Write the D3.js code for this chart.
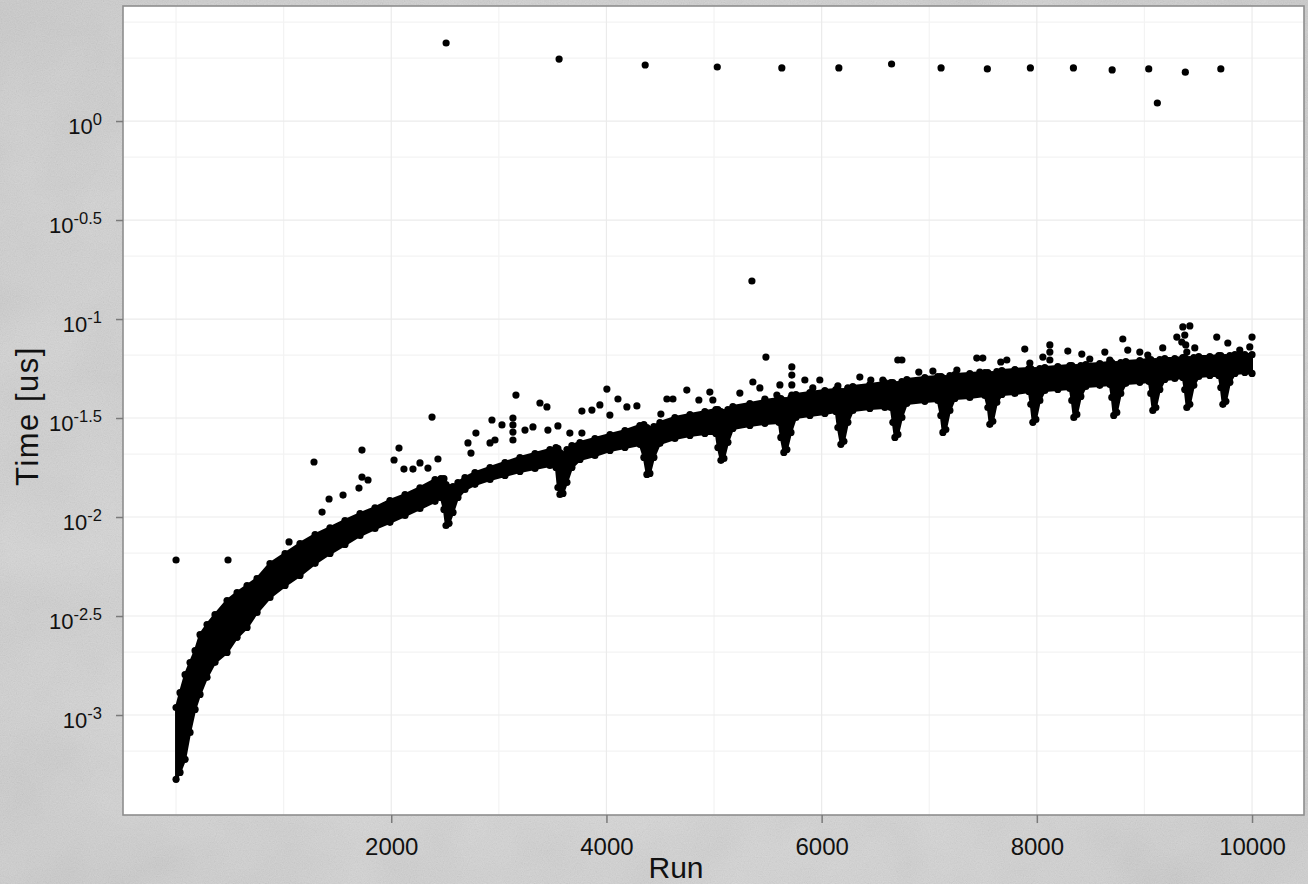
<!DOCTYPE html>
<html><head><meta charset="utf-8">
<script src="https://cdn.jsdelivr.net/npm/d3@7"></script>
<style>html,body{margin:0;padding:0;background:#d4d4d4;overflow:hidden}svg{display:block}</style>
</head><body><svg id="chart" width="1308" height="884"></svg>
<script>
// ---------- data (Time in µs stored as log10 exponents) ----------
const xTickValues = [2000, 4000, 6000, 8000, 10000];
const xMinorGrid = [0, 1000, 3000, 5000, 7000, 9000];
const yTickExp = [0, -0.5, -1, -1.5, -2, -2.5, -3];
const yTickExpLabels = ["0", "-0.5", "-1", "-1.5", "-2", "-2.5", "-3"];
const yGridMajorExp = [0.5, 0, -0.5, -1, -1.5, -2, -2.5, -3];
const yGridMinorExp = [0.318, -0.182, -0.682, -1.182, -1.682, -2.182, -2.682, -3.182];

// dense band of runs (upper / lower envelope of the point cloud)
const bandRun = [0,37,84,130,177,223,288,362,474,567,660,753,873,1013,1152,1292,1431,1570,1710,1849,1988,2128,2267,2407,2462,
  2490,2509,2537,2574,2620,2685,2778,2918,3057,3196,3336,3475,3531,
  3549,3568,3596,3633,3679,3754,3893,4033,4172,4311,
  4348,4376,4404,4441,4497,4636,4776,4915,5017,
  5036,5064,5092,5129,5175,5333,5473,5603,
  5621,5649,5677,5715,5761,5891,6030,6132,
  6151,6179,6207,6244,6290,6448,6588,6643,
  6662,6681,6709,6746,6792,6959,7080,
  7108,7127,7154,7192,7238,7377,7517,
  7545,7563,7591,7628,7675,7796,7926,
  7944,7963,7991,8028,8074,8195,8307,
  8325,8344,8372,8409,8455,8585,8678,
  8697,8715,8743,8780,8827,8957,9041,
  9059,9078,9106,9143,9189,9282,9357,
  9375,9394,9422,9459,9505,9608,9691,
  9710,9729,9757,9794,9841,9933,10000];
const bandHiExp = [-2.949,-2.874,-2.783,-2.722,-2.662,-2.581,-2.530,-2.480,-2.409,-2.369,-2.333,-2.298,-2.222,-2.172,-2.121,-2.076,-2.041,-2.005,-1.970,-1.940,-1.904,-1.874,-1.839,-1.798,-1.793,
  -1.793,-1.823,-1.838,-1.833,-1.813,-1.788,-1.763,-1.737,-1.712,-1.687,-1.667,-1.646,-1.636,
  -1.641,-1.662,-1.672,-1.646,-1.626,-1.611,-1.591,-1.571,-1.551,-1.525,
  -1.520,-1.535,-1.545,-1.530,-1.510,-1.485,-1.470,-1.455,-1.444,
  -1.444,-1.455,-1.460,-1.444,-1.429,-1.414,-1.399,-1.389,
  -1.389,-1.399,-1.399,-1.384,-1.369,-1.359,-1.348,-1.343,
  -1.343,-1.354,-1.354,-1.338,-1.328,-1.318,-1.308,-1.308,
  -1.308,-1.318,-1.318,-1.303,-1.293,-1.283,-1.278,
  -1.278,-1.288,-1.288,-1.273,-1.268,-1.263,-1.258,
  -1.258,-1.268,-1.268,-1.253,-1.247,-1.242,-1.237,
  -1.237,-1.247,-1.247,-1.237,-1.232,-1.227,-1.222,
  -1.222,-1.232,-1.232,-1.222,-1.217,-1.212,-1.207,
  -1.207,-1.217,-1.217,-1.207,-1.202,-1.197,-1.192,
  -1.192,-1.202,-1.202,-1.192,-1.187,-1.187,-1.182,
  -1.182,-1.192,-1.192,-1.182,-1.177,-1.177,-1.172,
  -1.172,-1.182,-1.182,-1.172,-1.167,-1.167,-1.167];
const bandLoExp = [-3.338,-3.303,-3.237,-3.101,-2.985,-2.909,-2.823,-2.747,-2.697,-2.621,-2.571,-2.495,-2.419,-2.359,-2.308,-2.247,-2.197,-2.152,-2.106,-2.071,-2.040,-2.005,-1.970,-1.934,-1.914,
  -1.975,-2.056,-2.045,-1.990,-1.914,-1.874,-1.848,-1.823,-1.803,-1.783,-1.768,-1.753,-1.763,
  -1.864,-1.899,-1.894,-1.838,-1.763,-1.722,-1.702,-1.677,-1.662,-1.646,
  -1.712,-1.798,-1.793,-1.712,-1.641,-1.616,-1.601,-1.591,-1.591,
  -1.662,-1.727,-1.717,-1.636,-1.566,-1.551,-1.540,-1.535,
  -1.611,-1.687,-1.672,-1.586,-1.510,-1.500,-1.490,-1.480,
  -1.561,-1.646,-1.631,-1.535,-1.475,-1.465,-1.460,-1.460,
  -1.535,-1.611,-1.596,-1.510,-1.439,-1.429,-1.424,
  -1.500,-1.586,-1.571,-1.475,-1.414,-1.409,-1.399,
  -1.460,-1.545,-1.530,-1.434,-1.394,-1.389,-1.379,
  -1.444,-1.535,-1.520,-1.424,-1.374,-1.369,-1.364,
  -1.424,-1.510,-1.495,-1.404,-1.354,-1.348,-1.343,
  -1.409,-1.500,-1.485,-1.389,-1.338,-1.333,-1.328,
  -1.389,-1.475,-1.460,-1.369,-1.318,-1.313,-1.308,
  -1.369,-1.460,-1.444,-1.348,-1.303,-1.298,-1.298,
  -1.359,-1.444,-1.429,-1.333,-1.288,-1.283,-1.288];

// individual runs lying outside the dense band
const pointRun = [2510,3560,4360,5030,5630,6160,6650,7110,7540,7940,8340,8700,9040,9120,9380,9710,
  0,483,1050,1282,1357,1422,1552,1700,1728,1728,1784,2026,2072,2118,2202,2267,2341,2379,2434,
  2713,2741,2787,2918,2936,2964,3029,3131,3131,3131,3131,3159,3243,3317,3382,3447,3456,
  3549,3660,3772,3772,3865,3939,4004,4032,4107,4190,4283,4506,4562,4618,4747,4859,4961,4989,
  5240,5352,5361,5426,5473,5482,5584,5612,5723,5723,5723,5723,5723,5723,5844,5918,5983,
  6151,6244,6355,6355,6457,6569,6708,6746,6903,7034,7117,7257,7442,7470,7498,7665,7721,
  7888,7935,8056,8121,8121,8121,8288,8418,8492,8632,8678,8799,8845,8957,9031,9170,
  9301,9347,9357,9375,9384,9394,9422,9468,9672,9775,9886,9979,10000];
const pointExp = [0.394,0.313,0.283,0.273,0.268,0.268,0.288,0.268,0.263,0.268,0.268,0.258,0.263,0.091,0.247,0.263,
  -2.217,-2.217,-2.126,-1.722,-1.975,-1.909,-1.889,-1.854,-1.662,-1.798,-1.813,-1.712,-1.652,-1.758,-1.758,-1.727,-1.753,-1.495,-1.707,
  -1.626,-1.677,-1.576,-1.626,-1.510,-1.611,-1.535,-1.500,-1.535,-1.571,-1.611,-1.384,-1.561,-1.545,-1.424,-1.444,-1.561,
  -1.540,-1.576,-1.576,-1.465,-1.460,-1.434,-1.354,-1.485,-1.404,-1.444,-1.439,-1.480,-1.404,-1.404,-1.359,-1.409,-1.369,-1.409,
  -1.374,-0.808,-1.318,-1.348,-1.404,-1.192,-1.384,-1.333,-1.242,-1.283,-1.333,-1.384,-1.434,-1.485,-1.308,-1.348,-1.308,
  -1.338,-1.348,-1.293,-1.394,-1.308,-1.308,-1.207,-1.207,-1.268,-1.263,-1.293,-1.258,-1.197,-1.268,-1.197,-1.217,-1.207,
  -1.152,-1.222,-1.192,-1.131,-1.167,-1.207,-1.162,-1.177,-1.202,-1.167,-1.207,-1.101,-1.157,-1.167,-1.182,-1.146,
  -1.091,-1.116,-1.040,-1.081,-1.131,-1.167,-1.035,-1.146,-1.091,-1.121,-1.157,-1.141,-1.091];

// ---------- drawing ----------
const W = 1308, H = 884;
const panel = {left: 123, top: 6, right: 1304, bottom: 815};
const R = 3.6; // point radius
const svg = d3.select("#chart");
const defs = svg.append("defs");

const grad = defs.append("radialGradient").attr("id", "bgGrad")
  .attr("cx", "50%").attr("cy", "55%").attr("r", "80%");
grad.append("stop").attr("offset", "0%").attr("stop-color", "#e3e3e3");
grad.append("stop").attr("offset", "100%").attr("stop-color", "#cdcdcd");

const fine = defs.append("filter").attr("id", "fineNoise").attr("x", 0).attr("y", 0).attr("width", "100%").attr("height", "100%");
fine.append("feTurbulence").attr("type", "fractalNoise").attr("baseFrequency", 0.85).attr("numOctaves", 2).attr("seed", 4);
fine.append("feColorMatrix").attr("type", "matrix")
  .attr("values", "0.33 0.33 0.33 0 0  0.33 0.33 0.33 0 0  0.33 0.33 0.33 0 0  0 0 0 0 0.15");
const coarse = defs.append("filter").attr("id", "coarseNoise").attr("x", 0).attr("y", 0).attr("width", "100%").attr("height", "100%");
coarse.append("feTurbulence").attr("type", "fractalNoise").attr("baseFrequency", 0.012).attr("numOctaves", 3).attr("seed", 9);
coarse.append("feColorMatrix").attr("type", "matrix")
  .attr("values", "0.33 0.33 0.33 0 0  0.33 0.33 0.33 0 0  0.33 0.33 0.33 0 0  0 0 0 0 0.12");

svg.append("rect").attr("width", W).attr("height", H).attr("fill", "url(#bgGrad)");
svg.append("rect").attr("width", W).attr("height", H).attr("filter", "url(#coarseNoise)");
svg.append("rect").attr("width", W).attr("height", H).attr("filter", "url(#fineNoise)");

const x = d3.scaleLinear().domain([-493, 10483]).range([panel.left, panel.right]);
const y = d3.scaleLog().domain([10 ** -3.505, 10 ** 0.581]).range([panel.bottom, panel.top]);

// panel background
svg.append("rect").attr("x", panel.left).attr("y", panel.top)
  .attr("width", panel.right - panel.left).attr("height", panel.bottom - panel.top)
  .attr("fill", "#ffffff");

// grid
const grid = svg.append("g");
grid.selectAll("line.ymin").data(yGridMinorExp).join("line")
  .attr("x1", panel.left).attr("x2", panel.right)
  .attr("y1", d => y(10 ** d)).attr("y2", d => y(10 ** d))
  .attr("stroke", "#f3f3f3").attr("stroke-width", 1.2);
grid.selectAll("line.xmin").data(xMinorGrid).join("line")
  .attr("y1", panel.top).attr("y2", panel.bottom)
  .attr("x1", d => x(d)).attr("x2", d => x(d))
  .attr("stroke", "#f3f3f3").attr("stroke-width", 1.2);
grid.selectAll("line.ymaj").data(yGridMajorExp).join("line")
  .attr("x1", panel.left).attr("x2", panel.right)
  .attr("y1", d => y(10 ** d)).attr("y2", d => y(10 ** d))
  .attr("stroke", d => d === 0.5 ? "#f3f3f3" : "#ebebeb").attr("stroke-width", 1.2);
grid.selectAll("line.xmaj").data(xTickValues).join("line")
  .attr("y1", panel.top).attr("y2", panel.bottom)
  .attr("x1", d => x(d)).attr("x2", d => x(d))
  .attr("stroke", "#ebebeb").attr("stroke-width", 1.2);

// dense band
const bandIdx = d3.range(bandRun.length);
const area = d3.area()
  .x(i => x(bandRun[i]))
  .y0(i => y(10 ** bandLoExp[i]) - 2)
  .y1(i => y(10 ** bandHiExp[i]) + 2);
const bandG = svg.append("g");
bandG.append("path").datum(bandIdx).attr("d", area)
  .attr("fill", "#000").attr("stroke", "#000").attr("stroke-width", 2).attr("stroke-linejoin", "round");
// rounded dot edges along the envelope
bandG.selectAll("circle.hi").data(bandIdx).join("circle")
  .attr("cx", i => x(bandRun[i])).attr("cy", i => y(10 ** bandHiExp[i]) + R - 1).attr("r", R).attr("fill", "#000");
bandG.selectAll("circle.lo").data(bandIdx).join("circle")
  .attr("cx", i => x(bandRun[i])).attr("cy", i => y(10 ** bandLoExp[i]) - R + 1).attr("r", R).attr("fill", "#000");

// points
svg.append("g").selectAll("circle").data(d3.range(pointRun.length)).join("circle")
  .attr("cx", i => x(pointRun[i])).attr("cy", i => y(10 ** pointExp[i])).attr("r", R)
  .attr("fill", "#000");

// panel border
svg.append("rect").attr("x", panel.left).attr("y", panel.top)
  .attr("width", panel.right - panel.left).attr("height", panel.bottom - panel.top)
  .attr("fill", "none").attr("stroke", "#8e8e8e").attr("stroke-width", 1.6);

// x axis
const xAxis = svg.append("g").attr("transform", `translate(0,${panel.bottom})`)
  .call(d3.axisBottom(x).tickValues(xTickValues).tickSize(8).tickPadding(15).tickFormat(d3.format("d")));
xAxis.select(".domain").remove();
xAxis.selectAll(".tick line").attr("stroke", "#7a7a7a").attr("stroke-width", 1.5);
xAxis.selectAll(".tick text").attr("font-family", "Liberation Sans, Arial, sans-serif")
  .attr("font-size", 24).attr("fill", "#111");

// y axis
const yAxis = svg.append("g").attr("transform", `translate(${panel.left},0)`)
  .call(d3.axisLeft(y).tickValues(yTickExp.map(e => 10 ** e)).tickSize(7).tickFormat(""));
yAxis.select(".domain").remove();
yAxis.selectAll(".tick line").attr("stroke", "#7a7a7a").attr("stroke-width", 1.5);
yAxis.selectAll(".tick").each(function(d, i) {
  const t = d3.select(this).append("text")
    .attr("x", -21).attr("y", 12).attr("text-anchor", "end")
    .attr("font-family", "Liberation Sans, Arial, sans-serif").attr("fill", "#111");
  t.append("tspan").attr("font-size", 22).text("10");
  t.append("tspan").attr("font-size", 16.5).attr("dy", -8.5).text(yTickExpLabels[i]);
});

// titles
svg.append("text").attr("x", 676).attr("y", 878).attr("text-anchor", "middle")
  .attr("font-family", "Liberation Sans, Arial, sans-serif").attr("font-size", 30).attr("fill", "#111")
  .text("Run");
svg.append("text").attr("transform", "translate(38,416) rotate(-90)").attr("text-anchor", "middle")
  .attr("font-family", "Liberation Sans, Arial, sans-serif").attr("font-size", 31)
  .attr("letter-spacing", 1.5).attr("fill", "#111")
  .text("Time [us]");
</script></body></html>
